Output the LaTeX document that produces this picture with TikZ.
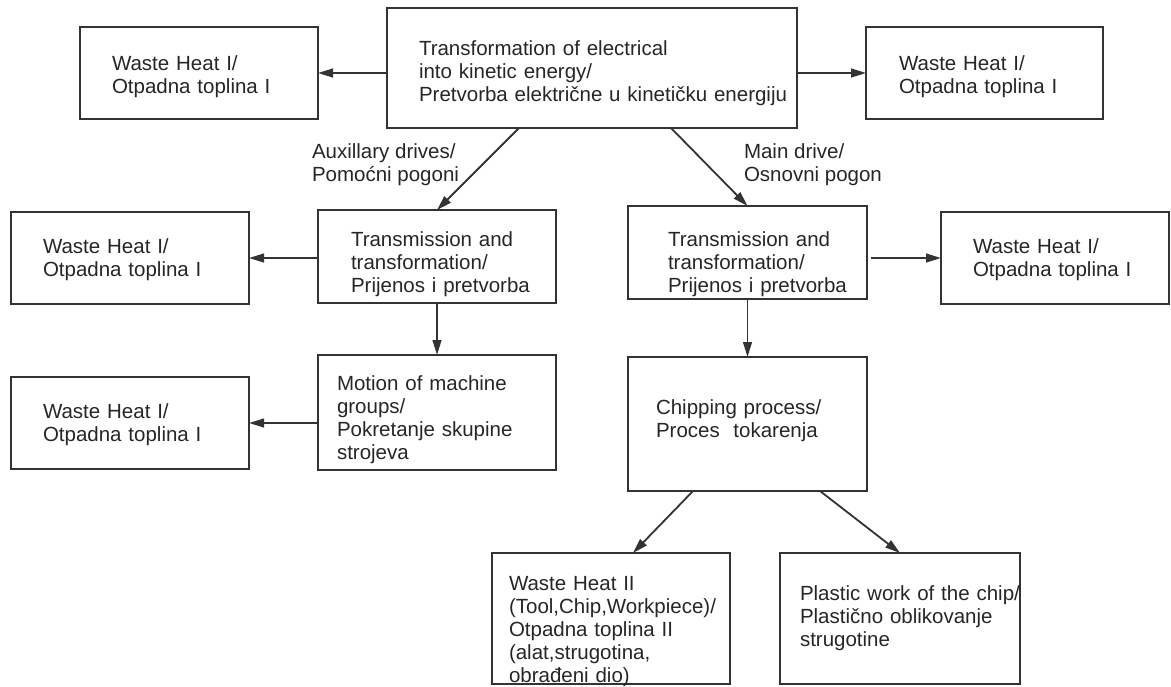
\documentclass[tikz,border=0pt]{standalone}
\usepackage{fontspec}
\setmainfont{Liberation Sans}
\usepackage{tikz}
\usetikzlibrary{arrows.meta}
\definecolor{ink}{HTML}{333333}

\begin{document}
\begin{tikzpicture}[x=0.5pt, y=-0.5pt, outer sep=0pt, line width=0.9pt, draw=ink, text=black!85,
		font=\fontsize{10.25}{11.5}\selectfont,
		box/.style n args={4}{draw, anchor=north west, inner sep=0pt, align=left, text width=#1, minimum height=#2, execute at begin node={\leftskip=#3}, execute at end node={\endgraf\vspace*{#4}}},
		lbl/.style={anchor=west, align=left, inner sep=0pt},
		arr/.style={-{Triangle[length=7.5pt,width=4.4pt]}, draw=ink}]
		\useasboundingbox (0,0) rectangle (1171,686);
		% top row
		\node[box={205pt}{60pt}{16pt}{-5pt}] (transf) at (387,8) {Transformation of electrical\\into kinetic energy/\\Pretvorba električne u kinetičku energiju};
		\node[box={119pt}{46pt}{16pt}{-4pt}] (wasteTL) at (80,27) {Waste Heat I/\\Otpadna toplina I};
		\node[box={118.5pt}{46pt}{16.5pt}{-4pt}] (wasteTR) at (866,27) {Waste Heat I/\\Otpadna toplina I};
		% second row
		\node[box={119pt}{46.5pt}{16.5pt}{-8pt}] (auxTrans) at (318,210) {Transmission and\\transformation/\\Prijenos i pretvorba};
		\node[box={119.5pt}{46.5pt}{20pt}{-12pt}] (mainTrans) at (628,206) {Transmission and\\transformation/\\Prijenos i pretvorba};
		\node[box={119pt}{46pt}{16pt}{-2pt}] (wasteML) at (11,212) {Waste Heat I/\\Otpadna toplina I};
		\node[box={114pt}{46pt}{16pt}{-2pt}] (wasteMR) at (941,212) {Waste Heat I/\\Otpadna toplina I};
		% third row
		\node[box={119pt}{57.5pt}{9.5pt}{-7pt}] (motion) at (318,355) {Motion of machine\\groups/\\Pokretanje skupine\\strojeva};
		\node[box={119pt}{46pt}{16pt}{-2pt}] (wasteBL) at (11,377) {Waste Heat I/\\Otpadna toplina I};
		\node[box={119.5pt}{67pt}{14pt}{3pt}] (chipping) at (628,357) {Chipping process/\\Proces\ \ tokarenja};
		% bottom row
		\node[box={119pt}{65.5pt}{8.5pt}{-13pt}] (heatII) at (492,553) {Waste Heat II\\(Tool,Chip,Workpiece)/\\Otpadna toplina II\\(alat,strugotina,\\obrađeni dio)};
		\node[box={120pt}{65.5pt}{10pt}{0pt}] (plastic) at (780,553) {Plastic work of the chip/\\Plastično oblikovanje\\strugotine};
		% drive labels
		\node[lbl] (auxLabel) at (312,165) {Auxillary drives/\\Pomoćni pogoni};
		\node[lbl] (mainLabel) at (744,165) {Main drive/\\Osnovni pogon};
		% arrows
		\draw[arr] (transf.west |- wasteTL.east) -- (wasteTL.east);
		\draw[arr] (transf.east |- wasteTR.west) -- (wasteTR.west);
		\draw[arr] ([xshift=-36.5pt]transf.south) -- (auxTrans.north);
		\draw[arr] ([xshift=39.5pt]transf.south) -- (mainTrans.north);
		\draw[arr] (auxTrans.west |- wasteML.east) -- (wasteML.east);
		\draw[arr] ([xshift=2pt]mainTrans.east |- wasteMR.west) -- (wasteMR.west);
		\draw[arr] (auxTrans.south) -- (motion.north);
		\draw[arr] (mainTrans.south) -- (chipping.north);
		\draw[arr] (motion.west |- wasteBL.east) -- (wasteBL.east);
		\draw[arr] ([xshift=-27.25pt]chipping.south) -- ([xshift=11pt]heatII.north);
		\draw[arr] ([xshift=36.25pt]chipping.south) -- (plastic.north);
	\end{tikzpicture}
\end{document}
